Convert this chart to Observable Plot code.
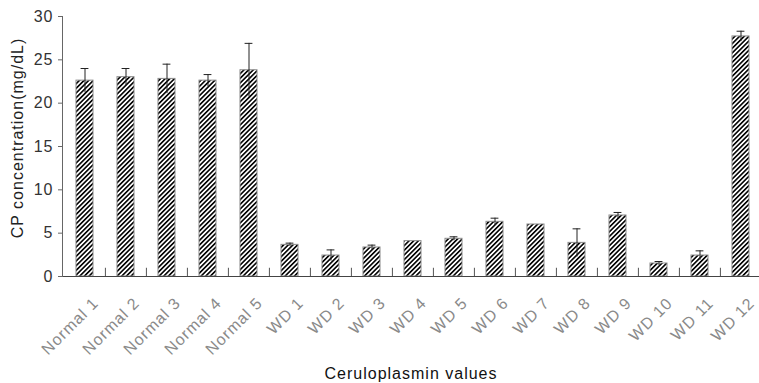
<!DOCTYPE html>
<html>
<head>
<meta charset="utf-8">
<script src="https://cdn.jsdelivr.net/npm/d3@7"></script>
<script src="https://cdn.jsdelivr.net/npm/@observablehq/plot@0.6"></script>
<style>
  html, body { margin: 0; padding: 0; background: #fff; }
</style>
</head>
<body>
<div id="chart"></div>
<script>
const categories = ["Normal 1", "Normal 2", "Normal 3", "Normal 4", "Normal 5",
  "WD 1", "WD 2", "WD 3", "WD 4", "WD 5", "WD 6", "WD 7", "WD 8", "WD 9", "WD 10", "WD 11", "WD 12"];
const means = [22.6, 23.0, 22.8, 22.6, 23.8, 3.65, 2.42, 3.35, 4.08, 4.35, 6.31, 6.0, 3.88, 7.04, 1.5, 2.42, 27.7];
const sds = [1.4, 1.0, 1.7, 0.7, 3.1, 0.2, 0.65, 0.27, 0, 0.23, 0.42, 0, 1.62, 0.35, 0.23, 0.54, 0.6];
const yTicks = [0, 5, 10, 15, 20, 25, 30];
const xTitle = "Ceruloplasmin values";
const yTitle = "CP concentration(mg/dL)";

const data = categories.map((name, i) => ({name, mean: means[i], sd: sds[i]}));
const withErr = data.filter(d => d.sd > 0);

const plotLeft = 62, plotRight = 762, plotTop = 16, plotBottom = 276;
const step = (plotRight - plotLeft) / categories.length;
const barW = 17.2;
const inset = (step - barW) / 2;
const capInset = (step - 8) / 2;

const svg = Plot.plot({
  width: 759,
  height: 383,
  marginLeft: plotLeft,
  marginRight: 0,
  marginTop: plotTop,
  marginBottom: 383 - plotBottom,
  style: {fontFamily: "'Liberation Sans', Arial, sans-serif", fontSize: "16px", letterSpacing: "1px", background: "#fff"},
  x: {domain: categories, range: [plotLeft, plotRight], padding: 0},
  y: {domain: [0, 30], range: [plotBottom, plotTop]},
  marks: [
    Plot.barY(data, {x: "name", y: "mean", fill: "url(#hatch)", stroke: "#8c8c8c", strokeWidth: 1, insetLeft: inset, insetRight: inset}),
    Plot.ruleX(withErr, {x: "name", y1: d => d.mean - d.sd, y2: d => d.mean + d.sd, stroke: "#222", strokeWidth: 1}),
    Plot.tickY(withErr, {x: "name", y: d => d.mean + d.sd, stroke: "#222", strokeWidth: 1, insetLeft: capInset, insetRight: capInset}),
    Plot.ruleX(categories.slice(1), {x: d => d, dx: -step / 2, y1: 0, y2: 0.95, stroke: "#555"}),
    Plot.ruleY([0], {stroke: "#444"}),
    Plot.frame({anchor: "left", stroke: "#666"}),
    Plot.axisY({ticks: yTicks, tickSize: 4, tickPadding: 5, label: null, color: "#333", stroke: "#666"}),
    Plot.axisX({tickRotate: -45, tickSize: 0, tickPadding: 24, dx: 11, label: null, color: "#8a8a8a"}),
    Plot.text([xTitle], {frameAnchor: "bottom", lineAnchor: "bottom", dy: 102, fill: "#111"}),
    Plot.text([yTitle], {frameAnchor: "left", rotate: -90, textAnchor: "middle", lineAnchor: "bottom", dx: -40, dy: -8.5, fill: "#222"})
  ]
});

const defs = d3.select(svg).insert("defs", ":first-child");
const pat = defs.append("pattern")
  .attr("id", "hatch")
  .attr("patternUnits", "userSpaceOnUse")
  .attr("width", 3.3)
  .attr("height", 3.3)
  .attr("patternTransform", "rotate(45)");
pat.append("rect").attr("width", 3.3).attr("height", 3.3).attr("fill", "#fff");
pat.append("line").attr("x1", 0.8).attr("y1", 0).attr("x2", 0.8).attr("y2", 3.3)
  .attr("stroke", "#000").attr("stroke-width", 1.6);

document.getElementById("chart").appendChild(svg);
</script>
</body>
</html>
